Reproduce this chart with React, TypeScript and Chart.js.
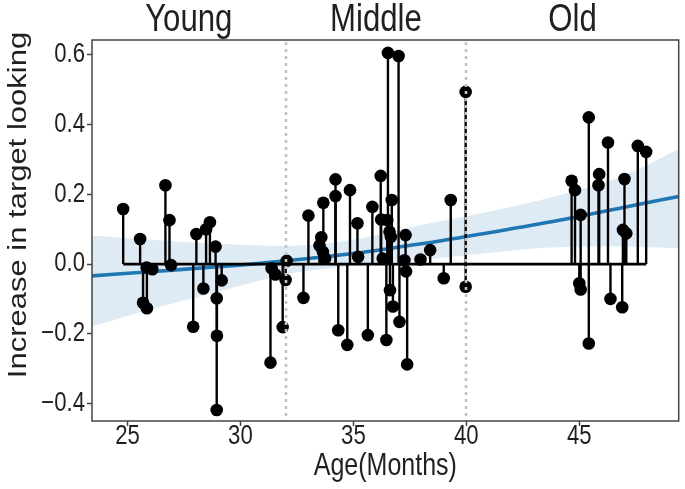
import React, { useEffect, useRef } from 'react';
import { Chart, registerables } from 'chart.js';

Chart.register(...registerables);

// ---- data ----
const ageMonths = [
  24.81, 25.56, 25.69, 25.86, 25.85, 26.1, 26.68, 26.86, 26.93, 27.91,
  28.05, 28.36, 28.48, 28.65, 28.9, 28.95, 28.96, 28.95, 29.17, 31.33,
  31.38, 31.55, 31.87, 32.0, 32.05, 32.79, 33.01, 33.5, 33.58, 33.65,
  33.67, 33.75, 34.21, 34.21, 34.33, 34.73, 34.85, 35.18, 35.21, 35.64,
  35.84, 36.21, 36.23, 36.3, 36.46, 36.5, 36.53, 36.6, 36.62, 36.66,
  36.7, 36.75, 37.0, 37.04, 37.26, 37.31, 37.33, 37.38, 37.97, 38.4,
  39.0, 39.31, 39.97, 39.97, 44.66, 44.81, 45.0, 45.06, 45.06, 45.42,
  45.42, 45.85, 45.88, 46.27, 46.38, 46.9, 46.93, 47.0, 47.08, 47.59,
  47.96,
];
const lookingIncrease = [
  0.158, 0.072, -0.111, -0.127, -0.01, -0.015, 0.226, 0.126, -0.003, -0.18,
  0.086, -0.07, 0.1, 0.12, 0.05, -0.098, -0.206, -0.419, -0.047, -0.283,
  -0.012, -0.03, -0.181, -0.046, 0.009, -0.097, 0.139, 0.053, 0.077, 0.035,
  0.176, 0.016, 0.243, 0.195, -0.19, -0.232, 0.212, 0.117, 0.021, -0.204,
  0.164, 0.253, 0.128, 0.016, -0.218, 0.126, 0.606, 0.093, -0.075, 0.078,
  0.184, -0.122, 0.597, -0.166, 0.011, 0.083, -0.021, -0.288, 0.013, 0.04,
  -0.041, 0.184, 0.494, -0.065, 0.239, 0.212, -0.055, -0.073, 0.141, 0.421,
  -0.228, 0.226, 0.258, 0.349, -0.1, -0.124, 0.098, 0.244, 0.088, 0.339,
  0.322,
];

// fitted trend and its confidence band
const fitAge = [23.43, 26, 29, 32, 35, 38, 41, 44, 47, 49.4];
const fitMean = [-0.034, -0.022, -0.008, 0.009, 0.03, 0.058, 0.09, 0.124, 0.163, 0.194];
const fitUpper = [0.082, 0.07, 0.058, 0.052, 0.07, 0.112, 0.15, 0.195, 0.255, 0.33];
const fitLower = [-0.18, -0.13, -0.08, -0.03, -0.005, 0.012, 0.032, 0.048, 0.05, 0.045];

const xTicks = [25, 30, 35, 40, 45];
const yTicks = [-0.4, -0.2, 0, 0.2, 0.4, 0.6];
const groupNames = ['Young', 'Middle', 'Old'];
const groupBounds = [32, 40];
const xTitle = 'Age(Months)';
const yTitle = 'Increase in target looking';

const X_MIN = 23.43;
const X_MAX = 49.4;
const Y_MIN = -0.4505;
const Y_MAX = 0.643;

const REG = "'Liberation Sans', Arial, sans-serif";
const TXT = '#231f20';
const AXIS = '#444444';
const SQUEEZE = 0.82;

const fmtY = (v: number) => {
  if (Math.abs(v) < 1e-9) return '0.0';
  return (v < 0 ? '\u2212' : '') + Math.abs(v).toFixed(1);
};

function narrowText(ctx: CanvasRenderingContext2D, text: string, x: number, y: number, size: number, align: CanvasTextAlign, baseline: CanvasTextBaseline) {
  ctx.save();
  ctx.translate(x, y);
  ctx.scale(SQUEEZE, 1);
  ctx.font = `${size}px ${REG}`;
  ctx.textAlign = align;
  ctx.textBaseline = baseline;
  ctx.fillText(text, 0, 0);
  ctx.restore();
}

const decorPlugin = {
  id: 'decor',
  beforeDatasetDraw(chart: any, args: any) {
    if (chart.data.datasets[args.index].label !== 'points') return;
    const { ctx, scales } = chart;
    const xs = scales.x;
    const ys = scales.y;
    const y0 = ys.getPixelForValue(0);
    ctx.save();
    ctx.strokeStyle = '#000';
    ctx.lineCap = 'butt';
    ctx.lineWidth = 2.4;
    for (let i = 0; i < ageMonths.length; i++) {
      const px = xs.getPixelForValue(ageMonths[i]);
      const py = ys.getPixelForValue(lookingIncrease[i]);
      ctx.beginPath();
      ctx.moveTo(px, y0);
      ctx.lineTo(px, py);
      ctx.stroke();
    }
    const minX = Math.min(...ageMonths);
    const maxX = Math.max(...ageMonths);
    ctx.lineWidth = 2.8;
    ctx.beginPath();
    ctx.moveTo(xs.getPixelForValue(minX), y0);
    ctx.lineTo(xs.getPixelForValue(maxX), y0);
    ctx.stroke();
    ctx.restore();
  },
  afterDatasetsDraw(chart: any) {
    const { ctx, chartArea, scales } = chart;
    const xs = scales.x;
    ctx.save();
    ctx.strokeStyle = '#c4c4c4';
    ctx.lineWidth = 2.6;
    ctx.setLineDash([3, 4]);
    for (const b of groupBounds) {
      const px = Math.round(xs.getPixelForValue(b));
      ctx.beginPath();
      ctx.moveTo(px, chartArea.top + 2);
      ctx.lineTo(px, chartArea.bottom);
      ctx.stroke();
    }
    ctx.setLineDash([]);
    ctx.strokeStyle = AXIS;
    ctx.lineWidth = 1.5;
    ctx.strokeRect(chartArea.left, chartArea.top, chartArea.right - chartArea.left, chartArea.bottom - chartArea.top);
    ctx.restore();
  },
  afterDraw(chart: any) {
    const { ctx, chartArea, scales } = chart;
    const xs = scales.x;
    const ys = scales.y;
    ctx.save();
    ctx.fillStyle = TXT;
    // tick labels
    for (const v of xTicks) {
      narrowText(ctx, String(v), xs.getPixelForValue(v), chartArea.bottom + 16, 27, 'center', 'middle');
    }
    for (const v of yTicks) {
      narrowText(ctx, fmtY(v), chartArea.left - 7, ys.getPixelForValue(v), 27, 'right', 'middle');
    }
    // group labels
    const edges = [X_MIN, ...groupBounds, X_MAX];
    for (let i = 0; i < groupNames.length; i++) {
      const c = (edges[i] + edges[i + 1]) / 2;
      narrowText(ctx, groupNames[i], xs.getPixelForValue(c), 31, 38, 'center', 'alphabetic');
    }
    // x title
    narrowText(ctx, xTitle, (chartArea.left + chartArea.right) / 2, 467, 30.5, 'center', 'middle');
    // y title
    ctx.translate(19, 205);
    ctx.rotate(-Math.PI / 2);
    ctx.scale(1, SQUEEZE);
    ctx.font = `31px ${REG}`;
    ctx.textAlign = 'center';
    ctx.textBaseline = 'middle';
    ctx.fillText(yTitle, 0, 0);
    ctx.restore();
  },
};

export default function App() {
  const canvasRef = useRef<HTMLCanvasElement | null>(null);

  useEffect(() => {
    document.body.style.margin = '0';
    const canvas = canvasRef.current;
    if (!canvas) return;

    const chart = new Chart(canvas, {
      type: 'scatter',
      data: {
        datasets: [
          {
            label: 'lower',
            type: 'line',
            data: fitAge.map((x, i) => ({ x, y: fitLower[i] })),
            borderWidth: 0,
            borderColor: 'rgba(0,0,0,0)',
            pointRadius: 0,
            fill: false,
            cubicInterpolationMode: 'monotone',
            order: 4,
          } as any,
          {
            label: 'upper',
            type: 'line',
            data: fitAge.map((x, i) => ({ x, y: fitUpper[i] })),
            borderWidth: 0,
            borderColor: 'rgba(0,0,0,0)',
            backgroundColor: 'rgba(31,119,180,0.15)',
            pointRadius: 0,
            fill: '-1',
            cubicInterpolationMode: 'monotone',
            order: 3,
          } as any,
          {
            label: 'fit',
            type: 'line',
            data: fitAge.map((x, i) => ({ x, y: fitMean[i] })),
            borderWidth: 3.6,
            borderColor: '#1f77b4',
            pointRadius: 0,
            fill: false,
            cubicInterpolationMode: 'monotone',
            order: 2,
          } as any,
          {
            label: 'points',
            type: 'scatter',
            data: ageMonths.map((x, i) => ({ x, y: lookingIncrease[i] })),
            pointRadius: 6.3,
            pointBackgroundColor: '#000',
            pointBorderColor: '#000',
            pointBorderWidth: 0,
            order: 1,
          } as any,
        ],
      },
      options: {
        animation: false,
        responsive: false,
        maintainAspectRatio: false,
        layout: { padding: { top: 40, right: 2, left: 0, bottom: 0 } },
        plugins: {
          legend: { display: false },
          tooltip: { enabled: false },
          title: { display: false },
        },
        scales: {
          x: {
            type: 'linear',
            min: X_MIN,
            max: X_MAX,
            afterBuildTicks: (s: any) => {
              s.ticks = xTicks.map((v) => ({ value: v }));
            },
            afterFit: (s: any) => {
              s.height = 68;
            },
            grid: { display: true, drawOnChartArea: false, drawTicks: true, tickLength: 5, tickColor: AXIS, tickWidth: 1.5 },
            border: { display: false },
            ticks: { display: false, autoSkip: false },
          },
          y: {
            type: 'linear',
            min: Y_MIN,
            max: Y_MAX,
            afterBuildTicks: (s: any) => {
              s.ticks = yTicks.map((v) => ({ value: v }));
            },
            afterFit: (s: any) => {
              s.width = 92;
            },
            grid: { display: true, drawOnChartArea: false, drawTicks: true, tickLength: 5, tickColor: AXIS, tickWidth: 1.5 },
            border: { display: false },
            ticks: { display: false, autoSkip: false },
          },
        },
      },
      plugins: [decorPlugin],
    } as any);

    return () => chart.destroy();
  }, []);

  return (
    <div style={{ width: 685, height: 489, background: '#fff' }}>
      <canvas ref={canvasRef} width={685} height={489} style={{ display: 'block', width: 685, height: 489 }} />
    </div>
  );
}
